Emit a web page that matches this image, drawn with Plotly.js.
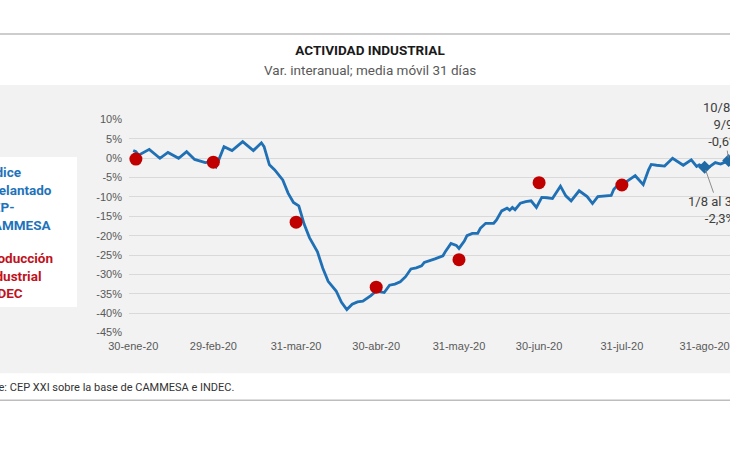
<!DOCTYPE html>
<html>
<head>
<meta charset="utf-8">
<script src="https://cdn.plot.ly/plotly-3.0.1.min.js"></script>
<style>
  html, body { margin: 0; padding: 0; background: #ffffff; }
  #chart { width: 730px; height: 460px; }
</style>
</head>
<body>
<div id="chart"></div>
<script>
// Índice adelantado CEP-CAMMESA: var. interanual, media móvil 31 días (%)
const indexDates = [
  '2020-01-30','2020-01-31','2020-02-01','2020-02-05','2020-02-09','2020-02-12','2020-02-16',
  '2020-02-19','2020-02-22','2020-02-26','2020-02-28','2020-03-01','2020-03-04','2020-03-07',
  '2020-03-11','2020-03-15','2020-03-18','2020-03-19','2020-03-21','2020-03-23','2020-03-26',
  '2020-03-28','2020-03-30','2020-04-01','2020-04-03','2020-04-05','2020-04-08','2020-04-10',
  '2020-04-12','2020-04-15','2020-04-17','2020-04-19','2020-04-21','2020-04-23','2020-04-25',
  '2020-04-28','2020-04-30','2020-05-03','2020-05-05','2020-05-07','2020-05-09','2020-05-11',
  '2020-05-13','2020-05-15','2020-05-17','2020-05-18','2020-05-22','2020-05-25','2020-05-26',
  '2020-05-28','2020-05-30','2020-05-31','2020-06-02','2020-06-03','2020-06-05','2020-06-07',
  '2020-06-08','2020-06-10','2020-06-13','2020-06-14','2020-06-16','2020-06-18','2020-06-19',
  '2020-06-20','2020-06-21','2020-06-23','2020-06-25','2020-06-27','2020-06-29','2020-07-01',
  '2020-07-03','2020-07-05','2020-07-08','2020-07-10','2020-07-12','2020-07-15','2020-07-18',
  '2020-07-20','2020-07-22','2020-07-25','2020-07-27','2020-07-28','2020-07-30','2020-08-01',
  '2020-08-02','2020-08-05','2020-08-08','2020-08-10','2020-08-11','2020-08-13','2020-08-16',
  '2020-08-19','2020-08-21','2020-08-23','2020-08-26','2020-08-28','2020-08-29','2020-08-31',
  '2020-09-02','2020-09-04','2020-09-06','2020-09-09'
];
const indexValues = [
  2.0, 1.7, 0.8, 2.3, 0.0, 1.5, 0.0,
  1.7, -0.3, -1.1, -0.9, -2.2, 3.0, 2.0,
  4.3, 2.0, 4.0, 3.0, -1.7, -3.0, -5.6,
  -9.0, -11.4, -12.3, -17.0, -20.5, -24.2, -28.4,
  -31.8, -34.3, -37.2, -39.1, -37.7, -37.1, -36.9,
  -35.5, -34.3, -34.7, -32.8, -32.5, -31.9, -30.6,
  -28.6, -28.3, -27.8, -26.9, -26.0, -25.2, -24.0,
  -22.0, -22.5, -23.3, -21.4, -20.0, -19.4, -19.4,
  -18.1, -16.8, -16.8, -16.0, -13.6, -12.9, -13.4,
  -12.7, -13.3, -11.6, -11.2, -11.0, -12.7, -10.1,
  -10.2, -10.4, -7.2, -9.7, -11.0, -8.4, -9.9,
  -11.7, -9.9, -9.8, -9.6, -8.0, -6.6, -7.5,
  -5.9, -4.5, -6.8, -3.0, -1.6, -1.8, -2.0,
  0.0, -0.9, -1.8, -0.4, -2.1, -1.7, -2.3,
  -2.1, -1.1, -1.5, -0.6
];

// Producción Industrial INDEC: var. interanual mensual (%)
const indecDates = ['2020-01-31','2020-02-29','2020-03-31','2020-04-30','2020-05-31','2020-06-30','2020-07-31'];
const indecValues = [-0.2, -1.0, -16.5, -33.3, -26.2, -6.3, -6.9];

// Highlighted moving-average windows
const windowDates  = ['2020-08-31', '2020-09-09'];
const windowLabels = ['1/8 al 31/8', '10/8 al<br>9/9'];
const windowValues = windowDates.map(d => indexValues[indexDates.indexOf(d)]);

// Axis ticks
const xTickVals = ['2020-01-30','2020-02-29','2020-03-31','2020-04-30','2020-05-31','2020-06-30','2020-07-31','2020-08-31'];
const xTickText = ['30-ene-20','29-feb-20','31-mar-20','30-abr-20','31-may-20','30-jun-20','31-jul-20','31-ago-20'];
const yTickVals = [10, 5, 0, -5, -10, -15, -20, -25, -30, -35, -40, -45];
const yTickText = ['10%','5%','0%','-5%','-10%','-15%','-20%','-25%','-30%','-35%','-40%','-45%'];

// Page geometry (pixels) and helpers to place decorations in paper units
const W = 730, H = 460;
const M = { l: 129, r: 0, t: 119.05, b: 127.1 };
const plotW = W - M.l - M.r, plotH = H - M.t - M.b;
const px = x => (x - M.l) / plotW;
const py = y => (H - M.b - y) / plotH;

const BLUE = '#1f70b4';
const RED = '#c00000';
const GREY_TXT = '#404040';
const fmtPct = v => v.toFixed(1).replace('.', ',') + '%';

const traces = [
  {
    x: indexDates, y: indexValues, type: 'scatter', mode: 'lines',
    line: { color: BLUE, width: 2.8 }, hoverinfo: 'skip', showlegend: false
  },
  {
    x: indecDates, y: indecValues, type: 'scatter', mode: 'markers',
    marker: { color: RED, size: 13 }, hoverinfo: 'skip', showlegend: false
  },
  {
    x: windowDates, y: windowValues, type: 'scatter', mode: 'markers', cliponaxis: false,
    marker: { color: '#1f6aa5', size: 10, symbol: 'diamond' }, hoverinfo: 'skip', showlegend: false
  }
];

const annFont = { family: 'Roboto, sans-serif', size: 13, color: GREY_TXT };

const annotations = [
  // subtitle
  { xref: 'paper', yref: 'paper', x: px(370), y: py(70), xanchor: 'center', yanchor: 'middle',
    text: 'Var. interanual; media móvil 31 días', showarrow: false,
    font: { family: 'Roboto, sans-serif', size: 13.5, color: '#595959' } },
  // series captions
  { xref: 'paper', yref: 'paper', x: px(-18), y: py(198), xanchor: 'left', yanchor: 'middle', align: 'left',
    text: '<b>Índice<br>adelantado<br>CEP-<br>CAMMESA</b>', showarrow: false,
    font: { family: 'Roboto, sans-serif', size: 13.5, color: '#1f73ba' } },
  { xref: 'paper', yref: 'paper', x: px(-18), y: py(275.5), xanchor: 'left', yanchor: 'middle', align: 'left',
    text: '<b>Producción<br>Industrial<br>INDEC</b>', showarrow: false,
    font: { family: 'Roboto, sans-serif', size: 13.5, color: '#c0121c' } },
  // source
  { xref: 'paper', yref: 'paper', x: px(-31), y: py(387), xanchor: 'left', yanchor: 'middle',
    text: 'Fuente: CEP XXI sobre la base de CAMMESA e INDEC.', showarrow: false,
    font: { family: 'Roboto, sans-serif', size: 11, color: '#333333' } },
  // window labels with leader lines
  { x: windowDates[0], y: windowValues[0], xref: 'x', yref: 'y',
    text: windowLabels[0] + '<br>' + fmtPct(windowValues[0]),
    showarrow: true, arrowhead: 0, arrowwidth: 1, arrowcolor: '#8c8c8c',
    ax: 15, ay: 43, standoff: 3, font: annFont, align: 'center' },
  { x: windowDates[1], y: windowValues[1], xref: 'x', yref: 'y',
    text: windowLabels[1] + '<br>' + fmtPct(windowValues[1]),
    showarrow: true, arrowhead: 0, arrowwidth: 1, arrowcolor: '#8c8c8c',
    ax: -5, ay: -36, standoff: 3, font: annFont, align: 'center' }
];

const shapes = [
  // grey chart panel
  { type: 'rect', xref: 'paper', yref: 'paper', layer: 'below',
    x0: px(-5), x1: px(740), y0: py(373), y1: py(85),
    fillcolor: '#f2f2f2', line: { width: 0 } },
  // white caption box
  { type: 'rect', xref: 'paper', yref: 'paper', layer: 'below',
    x0: px(-5), x1: px(77), y0: py(307), y1: py(157),
    fillcolor: '#ffffff', line: { width: 0 } },
  // frame rules
  { type: 'line', xref: 'paper', yref: 'paper', x0: px(-5), x1: px(740), y0: py(34), y1: py(34),
    line: { color: '#bdbdbd', width: 1.5 } },
  { type: 'line', xref: 'paper', yref: 'paper', x0: px(-5), x1: px(740), y0: py(400), y1: py(400),
    line: { color: '#bdbdbd', width: 1.5 } }
];

const layout = {
  width: W, height: H,
  margin: M,
  paper_bgcolor: '#ffffff',
  plot_bgcolor: '#f2f2f2',
  showlegend: false,
  title: {
    text: '<b>ACTIVIDAD INDUSTRIAL</b>',
    xref: 'container', yref: 'container',
    x: 370 / W, y: 1 - 50 / H, xanchor: 'center', yanchor: 'middle',
    font: { family: 'Roboto, sans-serif', size: 13.5, color: '#1a1a1a' }
  },
  xaxis: {
    type: 'date',
    range: ['2020-01-28 10:00', '2020-09-09 12:00'],
    tickvals: xTickVals, ticktext: xTickText,
    showgrid: false, zeroline: false, showline: false, ticks: '',
    ticklabelstandoff: 5, ticklabeloverflow: 'allow',
    tickfont: { family: 'Arial, "Liberation Sans", sans-serif', size: 11, color: '#595959' },
    automargin: false, fixedrange: true
  },
  yaxis: {
    range: [-45.15, 10.15],
    tickvals: yTickVals, ticktext: yTickText,
    showgrid: true, gridcolor: '#d9d9d9', gridwidth: 1,
    zeroline: false, showline: false, ticks: '',
    ticklabelstandoff: 6,
    tickfont: { family: 'Arial, "Liberation Sans", sans-serif', size: 11, color: '#595959' },
    automargin: false, fixedrange: true
  },
  shapes: shapes,
  annotations: annotations
};

Plotly.newPlot('chart', traces, layout, { staticPlot: true, displayModeBar: false });
</script>
</body>
</html>
